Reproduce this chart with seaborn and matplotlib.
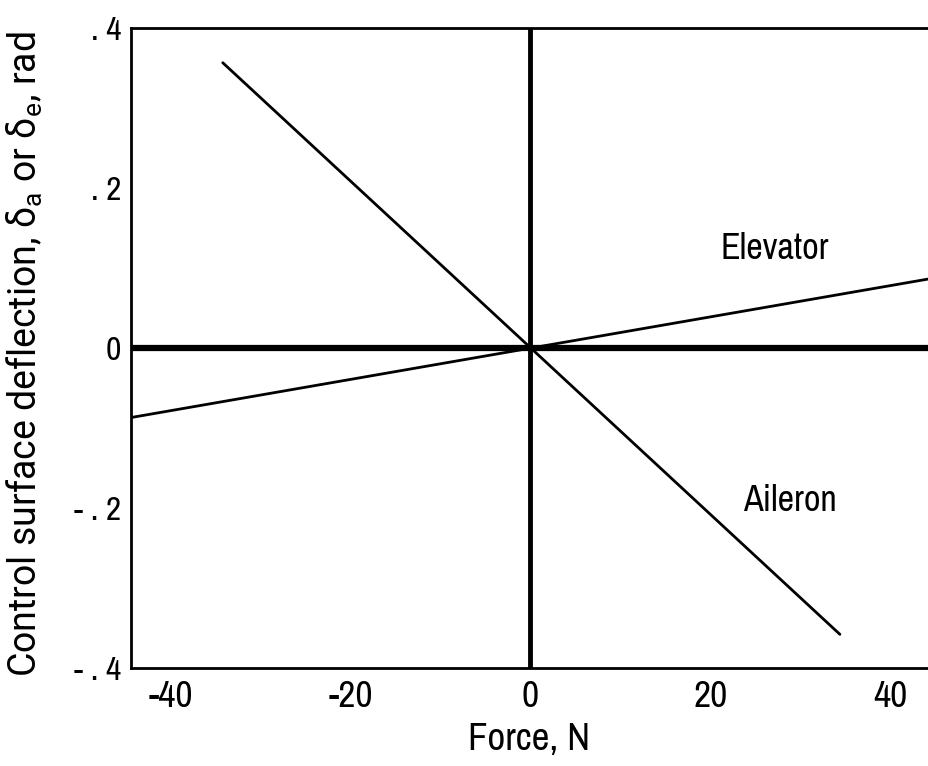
import matplotlib
matplotlib.use("Agg")
import matplotlib.pyplot as plt
from matplotlib import font_manager
import seaborn as sns
import pandas as pd

# Control deflection versus stick force
elevator_force = [-44.5, 44.5]
elevator_deflection = [-0.087, 0.087]
aileron_force = [-34.2, 34.4]
aileron_deflection = [0.357, -0.358]

x_ticks = [-40, -20, 0, 20, 40]
x_tick_labels = ["-40", "-20", "0", "20", "40"]
y_ticks = [-0.4, -0.2, 0.0, 0.2, 0.4]
y_tick_labels = ["- . 4", "- . 2", "0", ". 2", ". 4"]

sns.set_style("white")

# prefer a narrow sans face if one is available
fonts = font_manager.fontManager.ttflist
names = {f.name for f in fonts}
narrow = [f for f in fonts if ("Narrow" in f.name or "Condensed" in f.name)]
condensed = [f for f in fonts if str(f.stretch) in ("condensed", "semi-condensed", "extra-condensed")
             or (isinstance(f.stretch, int) and f.stretch < 500)]
if narrow:
    family = narrow[0].name
    stretch = "normal"
elif condensed:
    family = condensed[0].name
    stretch = "condensed"
else:
    family = "DejaVu Sans"
    stretch = "normal"
wide_family = "Roboto" if "Roboto" in names else "DejaVu Sans"

plt.rcParams["font.family"] = [family, "DejaVu Sans"]
plt.rcParams["font.stretch"] = stretch
plt.rcParams["mathtext.fontset"] = "custom"
plt.rcParams["mathtext.rm"] = wide_family
plt.rcParams["mathtext.it"] = wide_family
plt.rcParams["mathtext.default"] = "regular"
plt.rcParams["text.color"] = "black"
plt.rcParams["axes.labelcolor"] = "black"
plt.rcParams["xtick.color"] = "black"
plt.rcParams["ytick.color"] = "black"

df = pd.concat([
    pd.DataFrame({"force": elevator_force, "deflection": elevator_deflection, "surface": "Elevator"}),
    pd.DataFrame({"force": aileron_force, "deflection": aileron_deflection, "surface": "Aileron"}),
], ignore_index=True)

fig = plt.figure(figsize=(9.29, 7.66), dpi=100)
ax = fig.add_axes([0.141, 0.128, 0.859, 0.835])

ax.axhline(0, color="black", lw=4.5, zorder=1)
ax.axvline(0, color="black", lw=3.5, zorder=1)

sns.lineplot(data=df, x="force", y="deflection", units="surface", estimator=None,
             sort=False, color="black", lw=2.0, ax=ax, legend=False)

ax.set_xlim(-44.4, 44.3)
ax.set_ylim(-0.4, 0.4)
ax.set_xticks(x_ticks)
ax.set_xticklabels(x_tick_labels)
ax.set_yticks(y_ticks)
ax.set_yticklabels(y_tick_labels)
ax.tick_params(axis="x", direction="in", length=9, width=2, pad=9, labelsize=27)
ax.tick_params(axis="y", length=0, pad=7, labelsize=24)

for side in ["left", "bottom", "top"]:
    ax.spines[side].set_color("black")
    ax.spines[side].set_linewidth(2)
ax.spines["right"].set_visible(False)

ax.set_xlabel("Force, N", fontsize=28)
ax.xaxis.set_label_coords(0.499, -0.084)
ax.set_ylabel(r"Control surface deflection, $\delta_a$ or $\delta_e$, rad",
              fontsize=27, family=[wide_family, "DejaVu Sans"], stretch="normal")
ax.yaxis.set_label_coords(-0.108, 0.49)

ax.text(27.2, 0.125, "Elevator", fontsize=26, ha="center", va="center")
ax.text(28.8, -0.19, "Aileron", fontsize=26, ha="center", va="center")

fig.savefig("out.png", dpi=100, facecolor="white")
